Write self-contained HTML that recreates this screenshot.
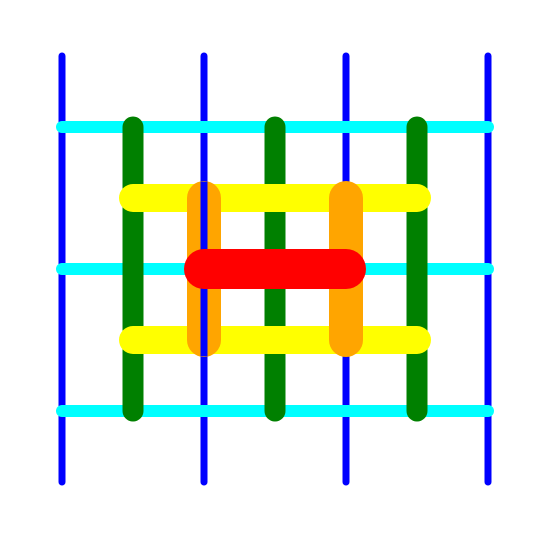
<!DOCTYPE html>
<html><head><meta charset="utf-8"><style>html,body{margin:0;padding:0;background:#fff}svg{display:block}</style></head>
<body>
<svg id="chart" width="555" height="533" viewBox="0 0 555 533" xmlns="http://www.w3.org/2000/svg"></svg>
<script>
// segments: [x1, y1, x2, y2] in data units
const blueLines = [[0,0,0,6],[2,0,2,6],[4,0,4,6],[6,0,6,6]];
const cyanLines = [[0,1,6,1],[0,3,6,3],[0,5,6,5]];
const greenLines = [[1,1,1,5],[3,1,3,5],[5,1,5,5]];
const yellowLines = [[1,2,3,2],[3,2,5,2],[1,4,3,4],[3,4,5,4]];
const orangeLeft = [[2,2,2,4]];
const blueOverlay = [[2,1.77,2,4.23]];
const orangeRight = [[4,2,4,4]];
const redLines = [[2,3,4,3]];

const sx = v => 62 + v * 71;
const sy = v => 56 + v * 71;
const svg = document.getElementById('chart');
function draw(arr, color, w, name, cap) {
  arr.forEach((s, i) => {
    const l = document.createElementNS('http://www.w3.org/2000/svg', 'line');
    l.setAttribute('x1', sx(s[0])); l.setAttribute('y1', sy(s[1]));
    l.setAttribute('x2', sx(s[2])); l.setAttribute('y2', sy(s[3]));
    l.setAttribute('stroke', color); l.setAttribute('stroke-width', w);
    l.setAttribute('stroke-linecap', cap || 'round');
    
    
    svg.appendChild(l);
  });
}
draw(blueLines, '#0000ff', 7, 'blue-line');
draw(cyanLines, '#00ffff', 12, 'cyan-line');
draw(greenLines, '#008000', 21, 'green-line');
draw(yellowLines, '#ffff00', 28, 'yellow-line');
draw(orangeLeft, '#ffa500', 34, 'orange-line-left');
draw(blueOverlay, '#0000ff', 7, 'blue-line-overlay', 'butt');
draw(orangeRight, '#ffa500', 34, 'orange-line-right');
draw(redLines, '#ff0000', 40, 'red-line');
</script>
</body></html>
